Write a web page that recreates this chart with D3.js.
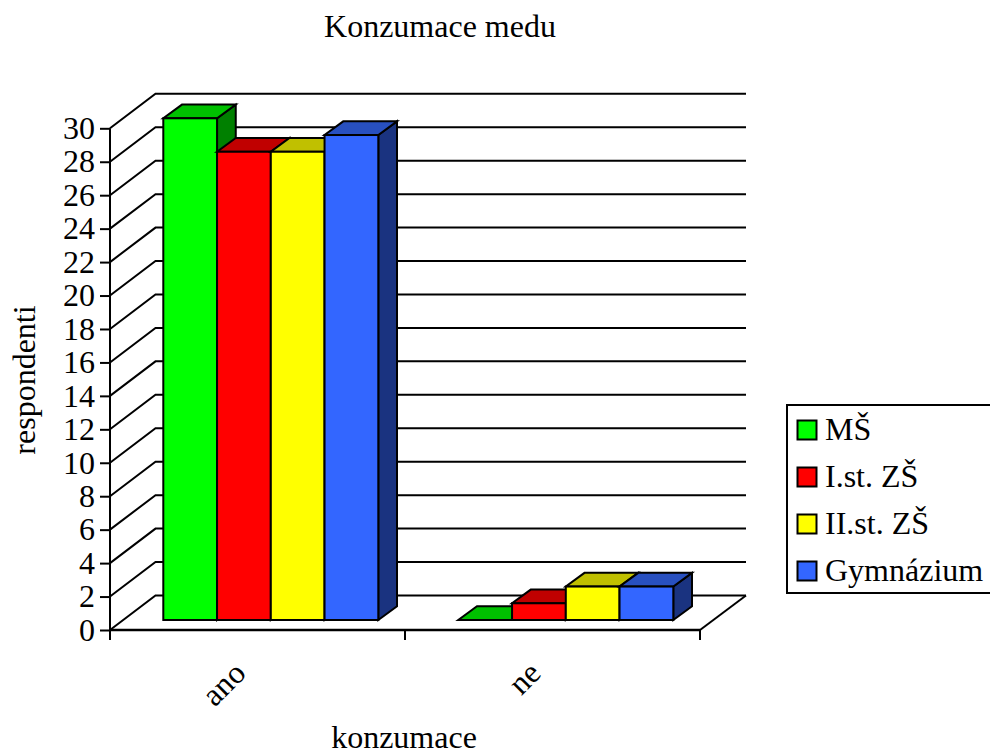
<!DOCTYPE html>
<html>
<head>
<meta charset="utf-8">
<script src="https://cdn.jsdelivr.net/npm/d3@7"></script>
<style>
  html, body { margin: 0; padding: 0; background: #fff; overflow: hidden; }
  text { font-family: "Liberation Serif", serif; fill: #000; }
</style>
</head>
<body>
<div id="chart"></div>
<script>
// data
const categories = ["ano", "ne"];
const seriesNames = ["MŠ", "I.st. ZŠ", "II.st. ZŠ", "Gymnázium"];
const seriesValues = [
  [30, 0],
  [28, 1],
  [28, 2],
  [29, 2]
];
const yTicks = d3.range(0, 31, 2);
const frontColors = ["#00ff00", "#ff0000", "#ffff00", "#3366ff"];
const topColors = ["#00c000", "#c00000", "#c0c000", "#2850c0"];
const sideColors = ["#008000", "#800000", "#808000", "#1a3380"];

const width = 990, height = 755;
const wallDx = 45.5, wallDy = -34.5;   // depth of the floor
const barDx = 18.7, barDy = -13.7;     // depth of one bar
const barLift = 10;                    // bars stand a bit back from the front edge
const fontSize = 32;

const svg = d3.select("#chart").append("svg")
  .attr("width", width)
  .attr("height", height);

const x0 = d3.scaleBand().domain(categories).range([110, 700]);
const x1 = d3.scaleBand().domain(seriesNames).range([53.3, 268.3]);
const y = d3.scaleLinear().domain([0, 30]).range([630, 128.3]);

const line = d3.line();

// floor and back wall
const grid = svg.append("g").attr("fill", "none").attr("stroke", "#000").attr("stroke-width", 2);
yTicks.forEach(t => {
  grid.append("path").attr("d", line([
    [x0.range()[0], y(t)],
    [x0.range()[0] + wallDx, y(t) + wallDy],
    [746, y(t) + wallDy]
  ]));
});
grid.append("path").attr("d", line([
  [746, y(0) + wallDy],
  [x0.range()[1], y(0)]
]));

// bars, painted left to right so that each one covers its neighbour's side
const bars = svg.append("g").attr("stroke", "#000").attr("stroke-width", 2).attr("stroke-linejoin", "miter");
categories.forEach((cat, c) => {
  seriesNames.forEach((name, s) => {
    const v = seriesValues[s][c];
    const left = x0(cat) + x1(name);
    const right = left + x1.bandwidth();
    const base = y(0) - barLift;
    const top = y(v) - barLift;
    if (v > 0) {
      bars.append("path").attr("fill", sideColors[s]).attr("d", line([
        [right, base], [right + barDx, base + barDy], [right + barDx, top + barDy], [right, top]
      ]) + "Z");
    }
    bars.append("path").attr("fill", topColors[s]).attr("d", line([
      [left, top], [right, top], [right + barDx, top + barDy], [left + barDx, top + barDy]
    ]) + "Z");
    if (v > 0) {
      bars.append("rect")
        .attr("x", left).attr("y", top)
        .attr("width", right - left).attr("height", base - top)
        .attr("fill", frontColors[s]);
    }
  });
});

// axes
const xAxis = svg.append("g")
  .attr("transform", "translate(0," + y(0) + ")")
  .call(d3.axisBottom(x0).tickValues([]).tickSize(0));
xAxis.select(".domain").attr("stroke", "#000").attr("stroke-width", 2.6).attr("d", "M110,0H700");
[110, 405, 700].forEach(px => {
  xAxis.append("line").attr("x1", px).attr("x2", px).attr("y1", 0).attr("y2", 10)
    .attr("stroke", "#000").attr("stroke-width", 2);
});

const yAxis = svg.append("g")
  .attr("transform", "translate(110,0)")
  .call(d3.axisLeft(y).tickValues(yTicks).tickSize(10).tickPadding(5).tickFormat(d3.format("d")));
yAxis.select(".domain").attr("stroke", "#000").attr("stroke-width", 2).attr("d", "M0," + y(30) + "V640");
yAxis.selectAll(".tick line").attr("stroke", "#000").attr("stroke-width", 2);
yAxis.selectAll(".tick text").style("font-family", '"Liberation Serif", serif').style("font-size", fontSize + "px").attr("fill", "#000");

// category labels
svg.selectAll(".cat").data(categories).enter().append("text")
  .attr("class", "cat")
  .attr("text-anchor", "end")
  .attr("font-size", fontSize)
  .attr("transform", d => "translate(" + (x0(d) + x0.bandwidth() / 2 - 10) + ",675) rotate(-45)")
  .text(d => d);

// titles
svg.append("text").attr("x", 440).attr("y", 37).attr("text-anchor", "middle").attr("font-size", fontSize).text("Konzumace medu");
svg.append("text").attr("x", 404).attr("y", 748).attr("text-anchor", "middle").attr("font-size", fontSize).text("konzumace");
svg.append("text").attr("transform", "translate(35,380) rotate(-90)").attr("text-anchor", "middle").attr("font-size", fontSize).text("respondenti");

// legend
const legend = svg.append("g");
legend.append("rect").attr("x", 787).attr("y", 405).attr("width", 210).attr("height", 188)
  .attr("fill", "#fff").attr("stroke", "#000").attr("stroke-width", 2);
const legendY = d3.scalePoint().domain(seriesNames).range([430, 571]);
seriesNames.forEach((name, s) => {
  legend.append("rect").attr("x", 797.5).attr("y", legendY(name) - 9.5).attr("width", 19).attr("height", 19)
    .attr("fill", frontColors[s]).attr("stroke", "#000").attr("stroke-width", 2);
  legend.append("text").attr("x", 825).attr("y", legendY(name) + 10).attr("font-size", fontSize).text(name);
});
</script>
</body>
</html>
